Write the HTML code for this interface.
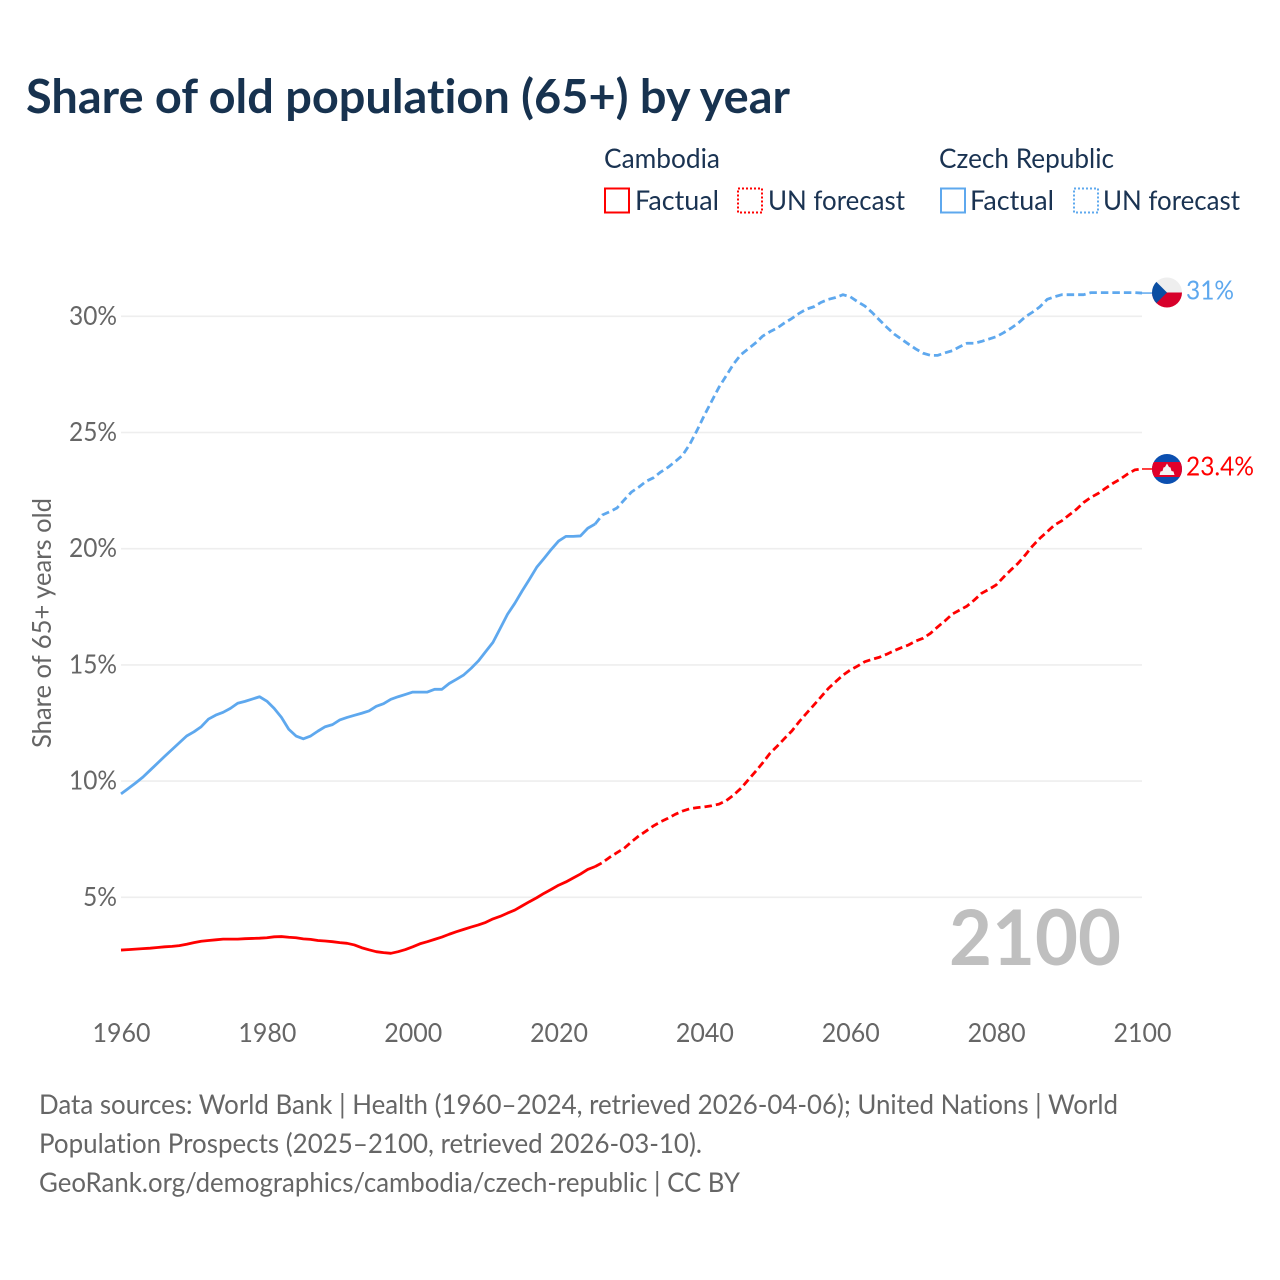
<!DOCTYPE html>
<html lang="en">
<head>
<meta charset="utf-8">
<title>Share of old population (65+) by year</title>
<style>
html,body{margin:0;padding:0;background:#fff;width:1280px;height:1280px;overflow:hidden}
svg{display:block}
text{font-family:"Lato","Carlito","Liberation Sans",sans-serif;font-variant-ligatures:none;font-feature-settings:"liga" 0,"clig" 0,"dlig" 0}
</style>
</head>
<body>
<svg id="chart" xmlns="http://www.w3.org/2000/svg" width="1280" height="1280" viewBox="0 0 1280 1280">
  <rect x="0" y="0" width="1280" height="1280" fill="#ffffff"/>
  <text x="26" y="113" font-size="47" font-weight="700" fill="#17324f" textLength="764" lengthAdjust="spacingAndGlyphs">Share of old population (65+) by year</text>

  <g font-size="27" fill="#1a3352">
    <text x="604" y="168" textLength="116" lengthAdjust="spacingAndGlyphs">Cambodia</text>
    <rect x="605" y="188.5" width="24" height="24" fill="none" stroke="#ff0000" stroke-width="2"/>
    <text x="635" y="210" textLength="84" lengthAdjust="spacingAndGlyphs">Factual</text>
    <rect x="738" y="188.5" width="24" height="24" fill="none" stroke="#ff0000" stroke-width="2" stroke-dasharray="2 2"/>
    <text x="768" y="210" textLength="137" lengthAdjust="spacingAndGlyphs">UN forecast</text>
    <text x="939" y="168" textLength="175" lengthAdjust="spacingAndGlyphs">Czech Republic</text>
    <rect x="941" y="188.5" width="24" height="24" fill="none" stroke="#5ea8ee" stroke-width="2"/>
    <text x="970" y="210" textLength="84" lengthAdjust="spacingAndGlyphs">Factual</text>
    <rect x="1074" y="188.5" width="24" height="24" fill="none" stroke="#5ea8ee" stroke-width="2" stroke-dasharray="2 2"/>
    <text x="1103" y="210" textLength="137" lengthAdjust="spacingAndGlyphs">UN forecast</text>
  </g>

  <g id="grid"></g>
  <g id="y-ticks"></g>
  <g id="x-ticks"></g>
  <text transform="translate(51 623) rotate(-90)" text-anchor="middle" font-size="26" fill="#666666" textLength="250" lengthAdjust="spacingAndGlyphs">Share of 65+ years old</text>

  <text x="949" y="965" font-size="77" font-weight="700" fill="#bfbfbf" textLength="172" lengthAdjust="spacingAndGlyphs">2100</text>

  <g id="series"></g>

  <g>
    <defs>
      <clipPath id="clip-cz"><circle cx="1167" cy="292.5" r="15"/></clipPath>
      <clipPath id="clip-kh"><circle cx="1167" cy="469" r="15"/></clipPath>
    </defs>
    <g clip-path="url(#clip-cz)">
      <rect x="1152" y="277" width="30" height="15.5" fill="#eeeeee"/>
      <rect x="1152" y="292.5" width="30" height="15.5" fill="#d7002a"/>
      <polygon points="1152,277.5 1167,292.5 1152,307.5" fill="#0b4ea2"/>
    </g>
  </g>
  <g>
    <g clip-path="url(#clip-kh)">
      <rect x="1152" y="454" width="30" height="30" fill="#0b4fb0"/>
      <rect x="1152" y="462" width="30" height="15" fill="#e0002a"/>
      <polygon points="1159.5,475 1174.5,475 1173.5,471.5 1171.5,471 1170.5,467.5 1169,467 1167,463.5 1165,467 1163.5,467.5 1162.5,471 1160.5,471.5" fill="#f4f4f4"/>
    </g>
  </g>
  <g id="end-labels"></g>

  <g font-size="27" fill="#666666">
    <text x="39" y="1114" textLength="1079" lengthAdjust="spacingAndGlyphs">Data sources: World Bank | Health (1960–2024, retrieved 2026-04-06); United Nations | World</text>
    <text x="39" y="1153" textLength="663" lengthAdjust="spacingAndGlyphs">Population Prospects (2025–2100, retrieved 2026-03-10).</text>
    <text x="39" y="1192" textLength="701" lengthAdjust="spacingAndGlyphs">GeoRank.org/demographics/cambodia/czech-republic | CC BY</text>
  </g>
</svg>
<script>
const firstYear = 1960;
const lastFactualYear = 2025;
const yTickValues = [5, 10, 15, 20, 25, 30];
const yTickLabels = ["5%", "10%", "15%", "20%", "25%", "30%"];
const xTickValues = [1960, 1980, 2000, 2020, 2040, 2060, 2080, 2100];
const xTickLabels = ["1960", "1980", "2000", "2020", "2040", "2060", "2080", "2100"];

// Share of population aged 65+, one value per year, 1960 to 2100.
const czechValues = [
  9.45,9.68,9.92,10.17,10.47,10.77,11.07,11.36,11.65,11.94,
  12.12,12.34,12.67,12.84,12.96,13.13,13.35,13.43,13.53,13.63,
  13.44,13.13,12.74,12.23,11.94,11.82,11.94,12.15,12.34,12.43,
  12.63,12.74,12.83,12.92,13.02,13.22,13.33,13.52,13.63,13.73,
  13.83,13.83,13.83,13.95,13.95,14.2,14.38,14.57,14.85,15.17,
  15.57,15.97,16.57,17.18,17.65,18.18,18.68,19.2,19.58,19.97,
  20.33,20.53,20.53,20.55,20.88,21.06,21.45,21.59,21.75,22.1,
  22.44,22.65,22.9,23.05,23.3,23.5,23.75,24.02,24.5,25.1,
  25.75,26.35,26.95,27.45,27.95,28.35,28.6,28.85,29.15,29.34,
  29.5,29.72,29.91,30.13,30.31,30.41,30.6,30.73,30.81,30.93,
  30.84,30.63,30.44,30.16,29.84,29.53,29.24,29.02,28.8,28.59,
  28.41,28.32,28.32,28.43,28.52,28.69,28.84,28.84,28.92,29.02,
  29.12,29.29,29.48,29.7,29.98,30.18,30.41,30.73,30.84,30.93,
  30.93,30.93,30.93,31.02,31.02,31.02,31.02,31.02,31.02,31.02,31.0
];
const cambodiaValues = [
  2.73,2.75,2.77,2.79,2.81,2.84,2.87,2.89,2.92,2.98,
  3.05,3.11,3.14,3.17,3.2,3.2,3.2,3.22,3.23,3.24,
  3.26,3.3,3.31,3.28,3.26,3.21,3.19,3.14,3.12,3.09,
  3.05,3.02,2.95,2.83,2.74,2.66,2.62,2.59,2.66,2.75,
  2.87,3.0,3.09,3.19,3.29,3.41,3.52,3.62,3.72,3.81,
  3.92,4.07,4.18,4.32,4.45,4.63,4.81,4.98,5.17,5.34,
  5.52,5.66,5.83,6.0,6.2,6.32,6.49,6.72,6.92,7.11,
  7.39,7.64,7.85,8.07,8.25,8.4,8.57,8.71,8.81,8.86,
  8.89,8.94,9.01,9.16,9.4,9.69,10.05,10.41,10.79,11.2,
  11.51,11.84,12.16,12.56,12.92,13.27,13.63,13.99,14.28,14.56,
  14.78,14.95,15.14,15.24,15.33,15.46,15.61,15.74,15.86,16.03,
  16.15,16.36,16.64,16.9,17.19,17.36,17.53,17.79,18.08,18.25,
  18.44,18.77,19.08,19.37,19.73,20.12,20.45,20.73,21.02,21.2,
  21.45,21.69,21.99,22.21,22.38,22.6,22.81,22.99,23.21,23.39,23.43
];
const czechEndLabel = "31%";
const cambodiaEndLabel = "23.4%";

const NS = "http://www.w3.org/2000/svg";
function xScale(year) { return 121 + (year - 1960) * 7.2929; }
function yScale(value) { return 1013.5 - value * 23.24; }
function make(tag, attrs, parent, content) {
  const el = document.createElementNS(NS, tag);
  for (const k in attrs) el.setAttribute(k, attrs[k]);
  if (content !== undefined) el.textContent = content;
  parent.appendChild(el);
  return el;
}

const gridGroup = document.getElementById("grid");
const yTickGroup = document.getElementById("y-ticks");
yTickValues.forEach(function (v, i) {
  const line = make("line", { x1: 121, x2: 1142, y1: yScale(v), y2: yScale(v), stroke: "#eeeeee", "stroke-width": 1.6 }, gridGroup);
  
  
  const label = yTickLabels[i];
  const t = make("text", { x: 117, y: yScale(v) + 8.5, "text-anchor": "end", "font-size": 26, fill: "#666666", textLength: label.length === 3 ? 48 : 34, lengthAdjust: "spacingAndGlyphs" }, yTickGroup, label);
  
  
});

const xTickGroup = document.getElementById("x-ticks");
xTickValues.forEach(function (year, i) {
  const t = make("text", { x: xScale(year) + 0.5, y: 1042, "text-anchor": "middle", "font-size": 26, fill: "#666666", textLength: 58, lengthAdjust: "spacingAndGlyphs" }, xTickGroup, xTickLabels[i]);
  
  
});

function pathFor(values, fromYear, toYear) {
  let d = "";
  for (let year = fromYear; year <= toYear; year++) {
    const v = values[year - firstYear];
    d += (d ? "L" : "M") + xScale(year).toFixed(2) + " " + yScale(v).toFixed(2);
  }
  return d;
}

const seriesGroup = document.getElementById("series");
const endLabelGroup = document.getElementById("end-labels");
function drawSeries(values, color, endLabel, labelWidth) {
  const lastYear = firstYear + values.length - 1;
  const factual = make("path", { d: pathFor(values, firstYear, lastFactualYear), fill: "none", stroke: color, "stroke-width": 2.8, "stroke-linejoin": "round" }, seriesGroup);
  
  
  const forecast = make("path", { d: pathFor(values, lastFactualYear, lastYear), fill: "none", stroke: color, "stroke-width": 2.8, "stroke-linejoin": "round", "stroke-dasharray": "7.5 4" }, seriesGroup);
  
  
  const endY = yScale(values[values.length - 1]);
  const connector = make("line", { x1: xScale(lastYear), x2: 1153, y1: endY, y2: endY, stroke: color, "stroke-width": 1.5 }, seriesGroup);
  
  
  const label = make("text", { x: 1186, y: endY + 6.5, "font-size": 26, fill: color, textLength: labelWidth, lengthAdjust: "spacingAndGlyphs" }, endLabelGroup, endLabel);
  
  
}
drawSeries(cambodiaValues, "#ff0000", cambodiaEndLabel, 68);
drawSeries(czechValues, "#5ea8ee", czechEndLabel, 48);
</script>
</body>
</html>
